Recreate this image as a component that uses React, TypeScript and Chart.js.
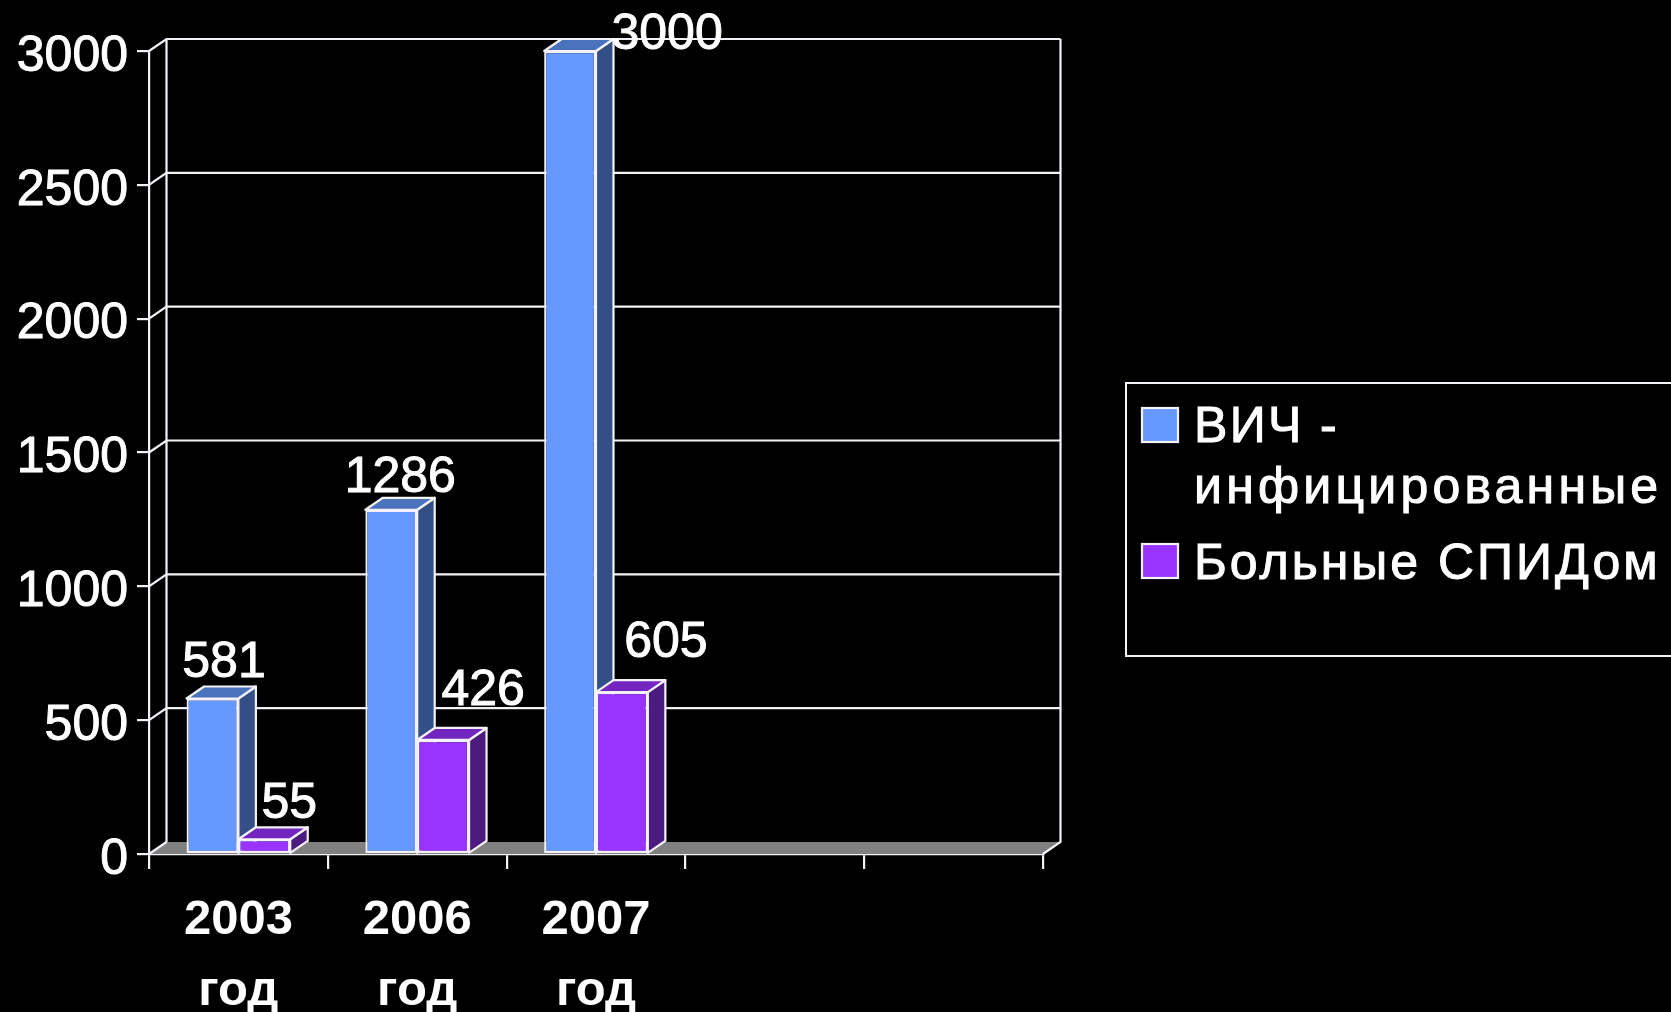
import React, { useEffect, useRef } from "react";
import { Chart, registerables } from "chart.js";

Chart.register(...registerables);

const categories: (string | string[])[] = [["2003", "год"], ["2006", "год"], ["2007", "год"], "", ""];
const hivValues = [581, 1286, 3000, null, null];
const aidsValues = [55, 426, 605, null, null];
const seriesNames = ["ВИЧ - инфицированные", "Больные СПИДом"];
const legendLines = [["ВИЧ -", "инфицированные"], ["Больные СПИДом"]];
const yTicks = [0, 500, 1000, 1500, 2000, 2500, 3000];

const FONT = '"Liberation Sans", Arial, sans-serif';
const DX = 17.5;
const DY = -12;
const LINE = "#f4f2f8";
const LW = 2.2;
const palette = [
  { front: "#6699ff", side: "#334f85", top: "#4a72bd" },
  { front: "#9933ff", side: "#4d1a80", top: "#7326bf" },
];
// label placement relative to each bar's top centre (dx, dy of the text baseline)
const labelNudge = [
  [[11.5, -21.5], [9, -17.5], [97, -2]],
  [[25, -21], [40, -35], [44, -35]],
];

const scene = {
  id: "scene",
  beforeDraw(chart: any) {
    const { ctx, width, height } = chart;
    ctx.save();
    ctx.fillStyle = "#000";
    ctx.fillRect(0, 0, width, height);
    ctx.restore();
  },
  beforeDatasetsDraw(chart: any) {
    const { ctx, chartArea: a, scales } = chart;
    const y = scales.y;
    ctx.save();
    // floor
    ctx.fillStyle = "#808080";
    ctx.beginPath();
    ctx.moveTo(a.left, a.bottom);
    ctx.lineTo(a.right, a.bottom);
    ctx.lineTo(a.right + DX, a.bottom + DY);
    ctx.lineTo(a.left + DX, a.bottom + DY);
    ctx.closePath();
    ctx.fill();
    ctx.strokeStyle = LINE;
    ctx.lineWidth = LW;
    // wall grid lines
    yTicks.forEach((v) => {
      const py = y.getPixelForValue(v);
      ctx.beginPath();
      ctx.moveTo(a.left, py);
      ctx.lineTo(a.left + DX, py + DY);
      if (v !== 0) ctx.lineTo(a.right + DX, py + DY);
      ctx.stroke();
    });
    ctx.beginPath();
    ctx.moveTo(a.left + DX, a.top + DY);
    ctx.lineTo(a.left + DX, a.bottom + DY);
    ctx.moveTo(a.right + DX, a.top + DY);
    ctx.lineTo(a.right + DX, a.bottom + DY);
    ctx.lineTo(a.right, a.bottom);
    ctx.stroke();
    // bar sides and tops
    chart.data.datasets.forEach((_: any, di: number) => {
      const meta = chart.getDatasetMeta(di);
      meta.data.forEach((bar: any, i: number) => {
        if (chart.data.datasets[di].data[i] == null) return;
        const r = bar.x + bar.width / 2;
        const l = bar.x - bar.width / 2;
        ctx.lineWidth = LW;
        ctx.strokeStyle = LINE;
        ctx.lineJoin = "round";
        ctx.fillStyle = palette[di].side;
        ctx.beginPath();
        ctx.moveTo(r, bar.y);
        ctx.lineTo(r + DX, bar.y + DY);
        ctx.lineTo(r + DX, bar.base + DY);
        ctx.lineTo(r, bar.base);
        ctx.closePath();
        ctx.fill();
        ctx.stroke();
        ctx.fillStyle = palette[di].top;
        ctx.beginPath();
        ctx.moveTo(l, bar.y);
        ctx.lineTo(l + DX, bar.y + DY);
        ctx.lineTo(r + DX, bar.y + DY);
        ctx.lineTo(r, bar.y);
        ctx.closePath();
        ctx.fill();
        ctx.stroke();
      });
    });
    ctx.restore();
  },
  afterDraw(chart: any) {
    const { ctx, width } = chart;
    ctx.save();
    // value labels
    ctx.font = `50px ${FONT}`;
    ctx.fillStyle = "#fff";
    ctx.strokeStyle = "#fff";
    ctx.lineWidth = 1;
    ctx.textAlign = "center";
    ctx.textBaseline = "alphabetic";
    chart.data.datasets.forEach((ds: any, di: number) => {
      chart.getDatasetMeta(di).data.forEach((bar: any, i: number) => {
        if (ds.data[i] == null) return;
        const [nx, ny] = labelNudge[di][i];
        ctx.fillText(String(ds.data[i]), bar.x + nx, bar.y + ny);
        ctx.strokeText(String(ds.data[i]), bar.x + nx, bar.y + ny);
      });
    });
    // legend
    ctx.strokeStyle = LINE;
    ctx.lineWidth = 2;
    ctx.strokeRect(1126, 383, width + 10 - 1126, 273);
    ctx.textAlign = "left";
    const rows = [
      { box: 408, lines: [442, 503], spacing: ["2.4px", "4.2px"] },
      { box: 544, lines: [579], spacing: ["3px"] },
    ];
    rows.forEach((row, di) => {
      ctx.fillStyle = palette[di].front;
      ctx.fillRect(1142, row.box, 36, 34);
      ctx.strokeStyle = LINE;
      ctx.lineWidth = LW;
      ctx.strokeRect(1142, row.box, 36, 34);
      ctx.fillStyle = "#fff";
      ctx.lineWidth = 1;
      ctx.strokeStyle = "#fff";
      legendLines[di].forEach((t, k) => {
        (ctx as any).letterSpacing = row.spacing[k];
        ctx.fillText(t, 1194, row.lines[k]);
        ctx.strokeText(t, 1194, row.lines[k]);
      });
    });
    ctx.restore();
  },
};

export default function App() {
  const ref = useRef<HTMLCanvasElement>(null);
  useEffect(() => {
    document.body.style.margin = "0";
    document.body.style.background = "#000";
    const chart = new Chart(ref.current as HTMLCanvasElement, {
      type: "bar",
      data: {
        labels: categories as any,
        datasets: [
          { label: seriesNames[0], data: hivValues as any, backgroundColor: palette[0].front },
          { label: seriesNames[1], data: aidsValues as any, backgroundColor: palette[1].front },
        ],
      },
      options: {
        responsive: false,
        animation: false,
        devicePixelRatio: 1,
        layout: { padding: { top: 51, right: 628, left: 0, bottom: 0 } },
        datasets: {
          bar: {
            categoryPercentage: 0.58,
            barPercentage: 1,
            borderColor: LINE,
            borderWidth: LW,
            borderSkipped: false,
          },
        },
        plugins: { legend: { display: false }, tooltip: { enabled: false }, title: { display: false } },
        scales: {
          x: {
            afterFit(s: any) {
              s.height = 158;
            },
            grid: { drawOnChartArea: false, color: LINE, lineWidth: LW, tickLength: 15, offset: true },
            border: { color: LINE, width: LW },
            ticks: {
              autoSkip: false,
              maxRotation: 0,
              minRotation: 0,
              color: "#fff",
              padding: 16,
              font: { family: FONT, size: 49, weight: "bold", lineHeight: 1.45 },
            },
          },
          y: {
            min: 0,
            max: 3000,
            afterFit(s: any) {
              s.width = 149;
            },
            afterBuildTicks(s: any) {
              s.ticks = yTicks.map((value) => ({ value }));
            },
            grid: { drawOnChartArea: false, color: LINE, lineWidth: LW, tickLength: 12 },
            border: { color: LINE, width: LW },
            ticks: {
              color: "#fff",
              padding: 9,
              labelOffset: 6,
              textStrokeColor: "#fff",
              textStrokeWidth: 1,
              callback: (v: any) => String(v),
              font: { family: FONT, size: 50 },
            },
          },
        },
      },
      plugins: [scene],
    });
    return () => chart.destroy();
  }, []);
  return <canvas ref={ref} width={1671} height={1012} style={{ display: "block" }} />;
}
